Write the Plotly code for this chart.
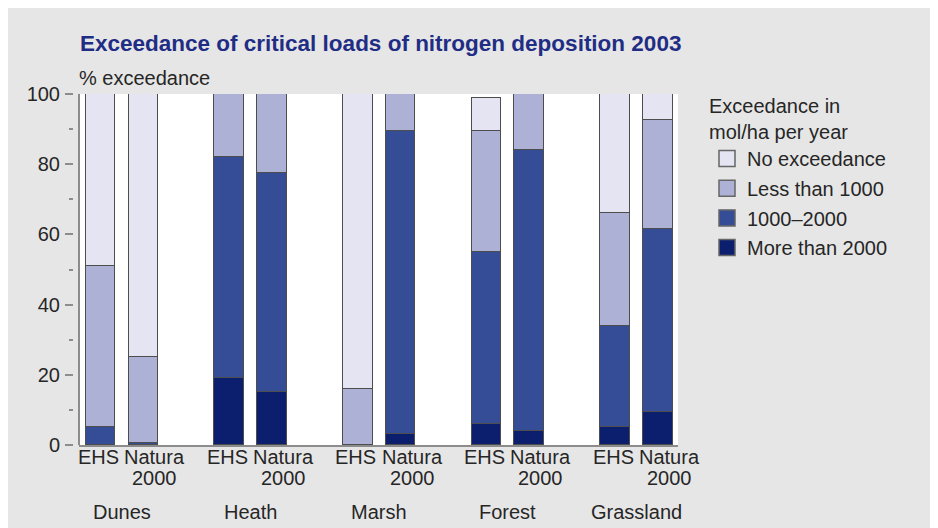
import plotly.graph_objects as go

# ---- data ----
groups = ["Dunes", "Heath", "Marsh", "Forest", "Grassland"]
areas = ["EHS", "Natura 2000"]
area_labels = ["EHS", "Natura"]
area_sublabels = ["", "2000"]
series_names = ["More than 2000", "1000–2000", "Less than 1000", "No exceedance"]
# order per bar: Dunes EHS, Dunes N2000, Heath EHS, Heath N2000, Marsh EHS, Marsh N2000,
# Forest EHS, Forest N2000, Grassland EHS, Grassland N2000
more_than_2000 = [0, 0, 19, 15, 0, 3, 6, 4, 5, 9.5]
from_1000_2000 = [5, 0.5, 63, 62.5, 0, 86.5, 49, 80, 29, 52]
less_than_1000 = [46, 24.5, 18, 22.5, 16, 10.5, 34.5, 16, 32, 31]
no_exceedance = [49, 75, 0, 0, 84, 0, 9.5, 0, 34, 7.5]
y_ticks = [0, 20, 40, 60, 80, 100]

series_values = [more_than_2000, from_1000_2000, less_than_1000, no_exceedance]
colors = ["#0c1f6f", "#344d96", "#adb1d6", "#e5e4f2"]

# bar positions: pairs within each group, one empty slot between groups
positions = []
for g in range(len(groups)):
    for a in range(len(areas)):
        positions.append(3 * g + a)

W, H = 928, 520
ML, MR, MT, MB = 52, 258, 86, 83
pw = W - ML - MR
ph = H - MT - MB
x0_px = 71  # left edge of plot area

fig = go.Figure()
edge = "#4d4d4d"
for name, vals, col in zip(series_names, series_values, colors):
    fig.add_trace(go.Bar(
        x=positions, y=vals, name=name, width=0.69,
        marker=dict(color=col, line=dict(color=edge, width=1.5)),
        showlegend=False, hoverinfo="y+name",
    ))

# legend entries (top to bottom as in the reference)
for name, col in reversed(list(zip(series_names, colors))):
    fig.add_trace(go.Scatter(
        x=[None], y=[None], mode="markers", name=name,
        marker=dict(symbol="square", size=17, color=col, line=dict(color="#666666", width=1.5)),
        legendgroup=name,
    ))

font_family = "Liberation Sans, Arial, Helvetica, sans-serif"
txt = "#262626"
fs = 20

annotations = []
# category labels under bars
for i, p in enumerate(positions):
    a = i % 2
    off = 0.27 if a == 1 else -0.04
    annotations.append(dict(x=p + off, y=-0.0333, xref="x", yref="paper", text=area_labels[a],
                            showarrow=False, xanchor="center", yanchor="middle",
                            font=dict(size=fs, color=txt, family=font_family)))
    if area_sublabels[a]:
        annotations.append(dict(x=p + off, y=-0.0949, xref="x", yref="paper", text=area_sublabels[a],
                                showarrow=False, xanchor="center", yanchor="middle",
                                font=dict(size=fs, color=txt, family=font_family)))
for g, name in enumerate(groups):
    annotations.append(dict(x=3 * g + 0.5, y=-0.1917, xref="x", yref="paper", text=name,
                            showarrow=False, xanchor="center", yanchor="middle",
                            font=dict(size=fs, color=txt, family=font_family)))
annotations.append(dict(x=(x0_px - ML) / pw, y=1 + 16 / ph, xref="paper", yref="paper",
                        text="% exceedance", showarrow=False, xanchor="left", yanchor="middle",
                        xshift=-2, font=dict(size=fs, color=txt, family=font_family)))

fig.update_layout(
    width=W, height=H,
    margin=dict(l=ML, r=MR, t=MT, b=MB),
    paper_bgcolor="#e6e6e6", plot_bgcolor="#ffffff",
    barmode="stack", bargap=0,
    font=dict(family=font_family, size=fs, color=txt),
    title=dict(text="Exceedance of critical loads of nitrogen deposition 2003",
               x=72 / W, xanchor="left", xref="container",
               y=1 - 35 / H, yanchor="middle", yref="container",
               font=dict(size=22.5, color="#1f2d84", family=font_family, weight="bold")),
    xaxis=dict(domain=[(x0_px - ML) / pw, 1], range=[-0.5, 13.47],
               showline=True, linecolor="#8c8c8c", linewidth=2,
               showticklabels=False, ticks="", showgrid=False, zeroline=False, fixedrange=True),
    yaxis=dict(range=[0, 100], anchor="free", position=(x0_px - 6 - ML) / pw,
               tickvals=y_ticks, ticks="outside", ticklen=8, tickwidth=1.5, tickcolor="#8c8c8c",
               minor=dict(dtick=10, ticks="outside", ticklen=4, tickwidth=1.5, tickcolor="#8c8c8c"),
               showline=False, showgrid=False, zeroline=False,
               tickfont=dict(size=fs, color=txt), ticklabelstandoff=1, fixedrange=True),
    legend=dict(xref="container", yref="container", x=699 / W, y=1 - 79 / H,
                xanchor="left", yanchor="top", bgcolor="rgba(0,0,0,0)",
                title=dict(text="Exceedance in<br>mol/ha per year", side="top",
                           font=dict(size=fs, color=txt)),
                font=dict(size=fs, color=txt), tracegroupgap=0.7, itemsizing="trace"),
    annotations=annotations,
    shapes=[dict(type="line", xref="x domain", yref="y domain", x0=0, x1=0, y0=0, y1=1,
                 line=dict(color="#8c8c8c", width=2))],
)

fig.write_html("out.html")
